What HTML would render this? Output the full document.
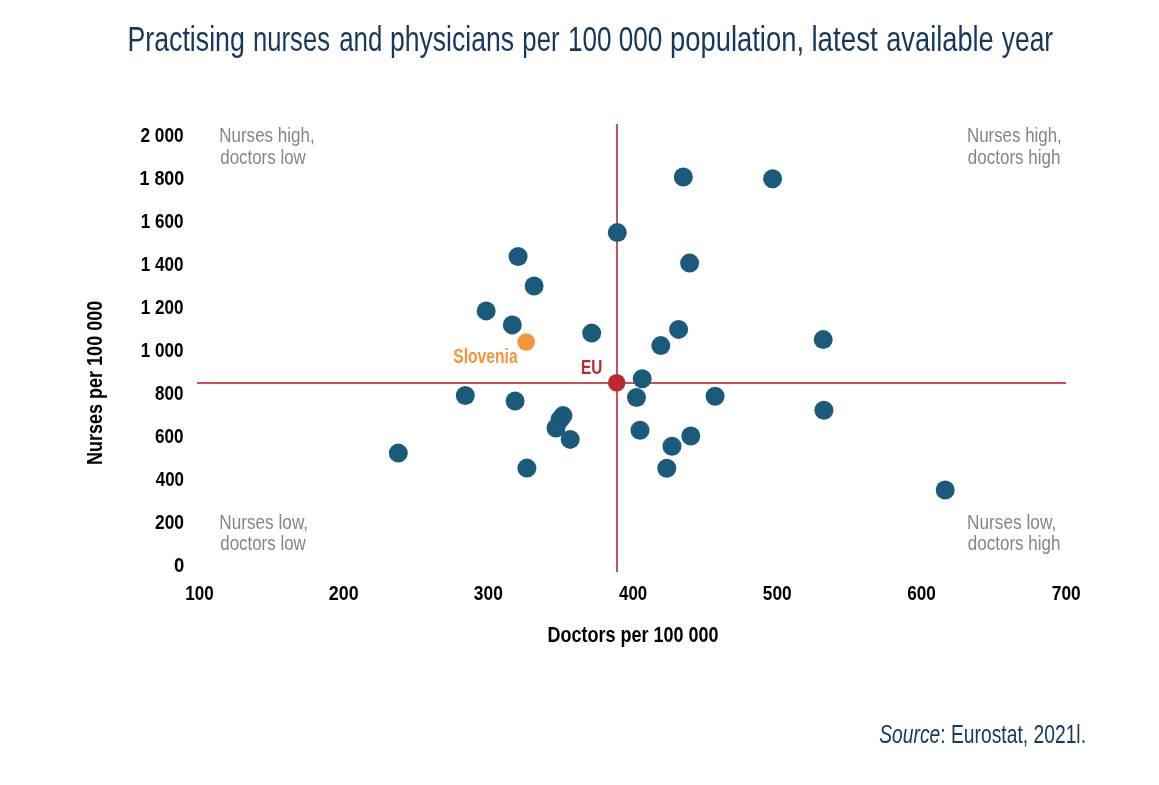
<!DOCTYPE html>
<html><head><meta charset="utf-8"><title>Practising nurses and physicians per 100 000 population</title><style>
html,body{margin:0;padding:0;background:#fff;overflow:hidden;}
svg{display:block;will-change:transform;font-family:"Liberation Sans", sans-serif;}
</style></head><body>
<svg xmlns="http://www.w3.org/2000/svg" width="1159" height="785" viewBox="0 0 1159 785">
<rect width="1159" height="785" fill="#fff"/>
<text x="127.46" y="51.20" font-size="34.6" fill="#15385c" textLength="117.42" lengthAdjust="spacingAndGlyphs">Practising</text>
<text x="253.12" y="51.20" font-size="34.6" fill="#15385c" textLength="76.82" lengthAdjust="spacingAndGlyphs">nurses</text>
<text x="339.20" y="51.20" font-size="34.6" fill="#15385c" textLength="43.18" lengthAdjust="spacingAndGlyphs">and</text>
<text x="389.90" y="51.20" font-size="34.6" fill="#15385c" textLength="124.12" lengthAdjust="spacingAndGlyphs">physicians</text>
<text x="522.34" y="51.20" font-size="34.6" fill="#15385c" textLength="37.16" lengthAdjust="spacingAndGlyphs">per</text>
<text x="568.04" y="51.20" font-size="34.6" fill="#15385c" textLength="43.62" lengthAdjust="spacingAndGlyphs">100</text>
<text x="618.70" y="51.20" font-size="34.6" fill="#15385c" textLength="43.60" lengthAdjust="spacingAndGlyphs">000</text>
<text x="670.04" y="51.20" font-size="34.6" fill="#15385c" textLength="134.00" lengthAdjust="spacingAndGlyphs">population,</text>
<text x="811.40" y="51.20" font-size="34.6" fill="#15385c" textLength="66.46" lengthAdjust="spacingAndGlyphs">latest</text>
<text x="886.20" y="51.20" font-size="34.6" fill="#15385c" textLength="107.60" lengthAdjust="spacingAndGlyphs">available</text>
<text x="1001.86" y="51.20" font-size="34.6" fill="#15385c" textLength="51.22" lengthAdjust="spacingAndGlyphs">year</text>
<text x="140.46" y="141.90" font-size="19.5" fill="#000" font-weight="bold" textLength="43.24" lengthAdjust="spacingAndGlyphs">2 000</text>
<text x="139.46" y="184.90" font-size="19.5" fill="#000" font-weight="bold" textLength="44.84" lengthAdjust="spacingAndGlyphs">1 800</text>
<text x="140.74" y="227.90" font-size="19.5" fill="#000" font-weight="bold" textLength="42.80" lengthAdjust="spacingAndGlyphs">1 600</text>
<text x="140.74" y="270.90" font-size="19.5" fill="#000" font-weight="bold" textLength="42.80" lengthAdjust="spacingAndGlyphs">1 400</text>
<text x="140.74" y="313.90" font-size="19.5" fill="#000" font-weight="bold" textLength="42.80" lengthAdjust="spacingAndGlyphs">1 200</text>
<text x="140.74" y="356.90" font-size="19.5" fill="#000" font-weight="bold" textLength="42.80" lengthAdjust="spacingAndGlyphs">1 000</text>
<text x="154.96" y="399.90" font-size="19.5" fill="#000" font-weight="bold" textLength="28.48" lengthAdjust="spacingAndGlyphs">800</text>
<text x="154.96" y="442.90" font-size="19.5" fill="#000" font-weight="bold" textLength="28.48" lengthAdjust="spacingAndGlyphs">600</text>
<text x="155.76" y="485.90" font-size="19.5" fill="#000" font-weight="bold" textLength="28.24" lengthAdjust="spacingAndGlyphs">400</text>
<text x="154.96" y="528.90" font-size="19.5" fill="#000" font-weight="bold" textLength="29.04" lengthAdjust="spacingAndGlyphs">200</text>
<text x="174.00" y="571.90" font-size="19.5" fill="#000" font-weight="bold" textLength="10.32" lengthAdjust="spacingAndGlyphs">0</text>
<text x="185.20" y="600.00" font-size="19.5" fill="#000" font-weight="bold" textLength="28.48" lengthAdjust="spacingAndGlyphs">100</text>
<text x="328.80" y="600.00" font-size="19.5" fill="#000" font-weight="bold" textLength="29.80" lengthAdjust="spacingAndGlyphs">200</text>
<text x="473.84" y="600.00" font-size="19.5" fill="#000" font-weight="bold" textLength="29.00" lengthAdjust="spacingAndGlyphs">300</text>
<text x="619.04" y="600.00" font-size="19.5" fill="#000" font-weight="bold" textLength="28.12" lengthAdjust="spacingAndGlyphs">400</text>
<text x="762.76" y="600.00" font-size="19.5" fill="#000" font-weight="bold" textLength="28.92" lengthAdjust="spacingAndGlyphs">500</text>
<text x="907.30" y="600.00" font-size="19.5" fill="#000" font-weight="bold" textLength="28.56" lengthAdjust="spacingAndGlyphs">600</text>
<text x="1051.78" y="600.00" font-size="19.5" fill="#000" font-weight="bold" textLength="28.92" lengthAdjust="spacingAndGlyphs">700</text>
<text x="547.50" y="641.60" font-size="21.5" fill="#000" font-weight="bold" textLength="171.12" lengthAdjust="spacingAndGlyphs">Doctors per 100 000</text>
<text x="219.22" y="141.60" font-size="19.6" fill="#858585" textLength="95.48" lengthAdjust="spacingAndGlyphs">Nurses high,</text>
<text x="220.22" y="163.80" font-size="19.6" fill="#858585" textLength="85.60" lengthAdjust="spacingAndGlyphs">doctors low</text>
<text x="966.98" y="141.60" font-size="19.6" fill="#858585" textLength="94.80" lengthAdjust="spacingAndGlyphs">Nurses high,</text>
<text x="967.78" y="163.80" font-size="19.6" fill="#858585" textLength="92.68" lengthAdjust="spacingAndGlyphs">doctors high</text>
<text x="219.22" y="528.50" font-size="19.6" fill="#858585" textLength="88.92" lengthAdjust="spacingAndGlyphs">Nurses low,</text>
<text x="220.22" y="549.60" font-size="19.6" fill="#858585" textLength="85.60" lengthAdjust="spacingAndGlyphs">doctors low</text>
<text x="966.98" y="528.50" font-size="19.6" fill="#858585" textLength="89.24" lengthAdjust="spacingAndGlyphs">Nurses low,</text>
<text x="967.78" y="549.60" font-size="19.6" fill="#858585" textLength="92.68" lengthAdjust="spacingAndGlyphs">doctors high</text>
<text x="453.24" y="363.10" font-size="19.5" fill="#f2963c" font-weight="bold" textLength="64.44" lengthAdjust="spacingAndGlyphs">Slovenia</text>
<text x="580.98" y="373.80" font-size="19.5" fill="#bb2a33" font-weight="bold" textLength="21.38" lengthAdjust="spacingAndGlyphs">EU</text>
<text x="879.22" y="742.80" font-size="25" fill="#15385c" textLength="206.80" lengthAdjust="spacingAndGlyphs"><tspan font-style="italic">Source</tspan>: Eurostat, 2021l.</text>
<text transform="translate(101.8,465.02) rotate(-90)" x="0" y="0" font-size="21.5" font-weight="bold" fill="#000" textLength="164.24" lengthAdjust="spacingAndGlyphs">Nurses per 100 000</text>
<rect x="197" y="382" width="869" height="2" fill="#c9515b"/>
<rect x="616" y="124" width="2" height="448" fill="#c9515b"/>
<circle cx="683.3" cy="177.0" r="9.5" fill="#1a5a7a"/>
<circle cx="772.6" cy="178.8" r="9.5" fill="#1a5a7a"/>
<circle cx="617.3" cy="232.6" r="9.5" fill="#1a5a7a"/>
<circle cx="518.1" cy="256.5" r="9.5" fill="#1a5a7a"/>
<circle cx="689.6" cy="263.1" r="9.5" fill="#1a5a7a"/>
<circle cx="534.1" cy="286.0" r="9.5" fill="#1a5a7a"/>
<circle cx="486.2" cy="310.9" r="9.5" fill="#1a5a7a"/>
<circle cx="512.3" cy="324.9" r="9.5" fill="#1a5a7a"/>
<circle cx="591.7" cy="333.1" r="9.5" fill="#1a5a7a"/>
<circle cx="678.6" cy="329.4" r="9.5" fill="#1a5a7a"/>
<circle cx="823.2" cy="339.6" r="9.5" fill="#1a5a7a"/>
<circle cx="660.8" cy="345.6" r="9.5" fill="#1a5a7a"/>
<circle cx="642.2" cy="378.8" r="9.5" fill="#1a5a7a"/>
<circle cx="465.3" cy="395.5" r="9.5" fill="#1a5a7a"/>
<circle cx="515.1" cy="401.0" r="9.5" fill="#1a5a7a"/>
<circle cx="636.5" cy="397.5" r="9.5" fill="#1a5a7a"/>
<circle cx="715.1" cy="396.3" r="9.5" fill="#1a5a7a"/>
<circle cx="563.0" cy="415.6" r="9.5" fill="#1a5a7a"/>
<circle cx="560.0" cy="419.5" r="9.5" fill="#1a5a7a"/>
<circle cx="556.0" cy="428.0" r="9.5" fill="#1a5a7a"/>
<circle cx="570.2" cy="439.4" r="9.5" fill="#1a5a7a"/>
<circle cx="640.0" cy="430.3" r="9.5" fill="#1a5a7a"/>
<circle cx="690.8" cy="436.0" r="9.5" fill="#1a5a7a"/>
<circle cx="672.0" cy="446.3" r="9.5" fill="#1a5a7a"/>
<circle cx="823.9" cy="410.3" r="9.5" fill="#1a5a7a"/>
<circle cx="398.3" cy="453.1" r="9.5" fill="#1a5a7a"/>
<circle cx="526.9" cy="468.1" r="9.5" fill="#1a5a7a"/>
<circle cx="666.8" cy="468.3" r="9.5" fill="#1a5a7a"/>
<circle cx="945.2" cy="490.0" r="9.5" fill="#1a5a7a"/>
<circle cx="526.2" cy="342" r="8.8" fill="#f2963c"/>
<circle cx="616.7" cy="382.8" r="8.8" fill="#bb2a33"/>
</svg>
</body></html>
